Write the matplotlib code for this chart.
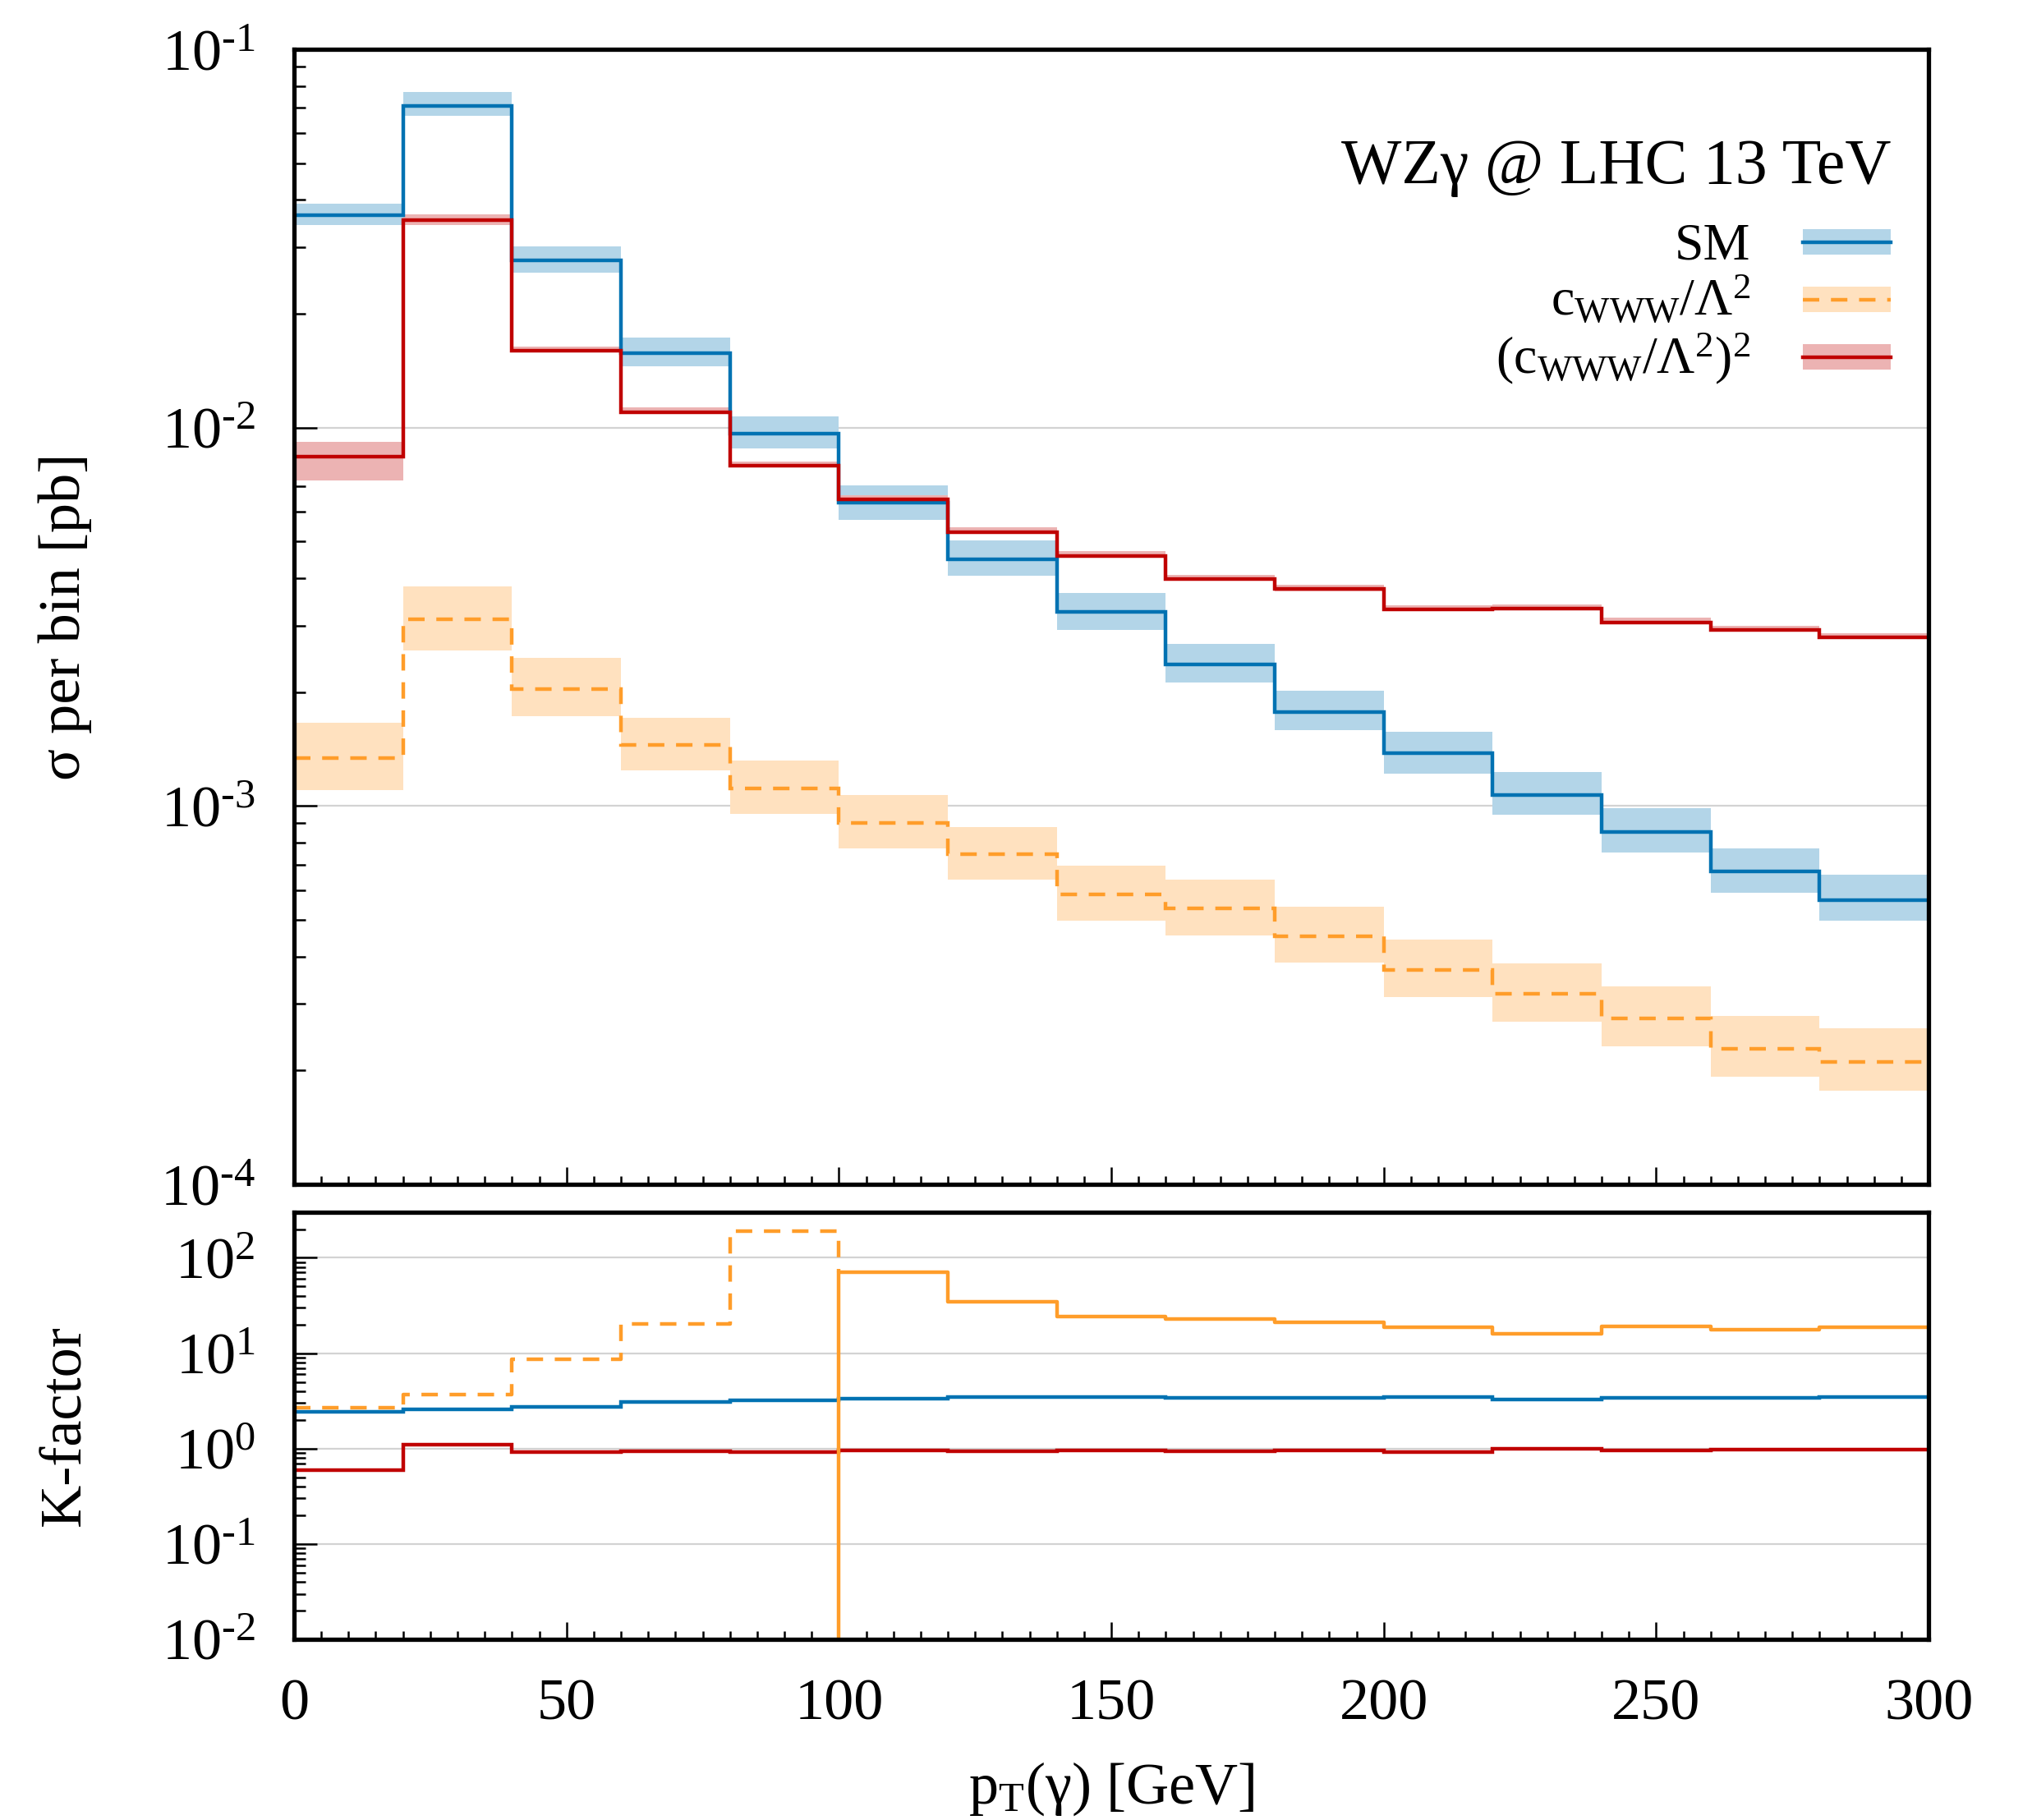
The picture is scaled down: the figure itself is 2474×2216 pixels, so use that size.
import numpy as np
import matplotlib
matplotlib.use("Agg")
import matplotlib.pyplot as plt
from matplotlib.ticker import LogLocator, MultipleLocator, NullFormatter, FuncFormatter
from matplotlib.patches import Rectangle
from matplotlib.lines import Line2D

plt.rcParams['font.family'] = 'Liberation Serif'
plt.rcParams['mathtext.fontset'] = 'custom'
plt.rcParams['mathtext.rm'] = 'Liberation Serif'
plt.rcParams['mathtext.it'] = 'Liberation Serif:italic'
plt.rcParams['mathtext.bf'] = 'Liberation Serif:bold'

# photon pT bins [GeV]
edges = np.arange(0, 301, 20)

# sigma per bin [pb], central value and scale band
sm = [0.0364, 0.0710, 0.0277, 0.0157, 0.00966, 0.00632, 0.00448, 0.00326,
      0.00237, 0.00177, 0.00138, 0.00107, 0.000852, 0.000673, 0.000565]
sm_hi = [0.0390, 0.0771, 0.0301, 0.0173, 0.0107, 0.00704, 0.00504, 0.00366,
         0.00268, 0.00202, 0.00157, 0.00123, 0.000985, 0.000774, 0.000657]
sm_lo = [0.0343, 0.0667, 0.0257, 0.0145, 0.00881, 0.00571, 0.00406, 0.00292,
         0.00212, 0.00159, 0.00122, 0.000946, 0.000752, 0.000591, 0.000497]

lin = [0.00134, 0.00312, 0.00204, 0.00145, 0.00111, 0.000901, 0.000745, 0.000583,
       0.000535, 0.000453, 0.000369, 0.000319, 0.000275, 0.000228, 0.000211]
lin_hi = [0.00166, 0.00381, 0.00246, 0.00171, 0.00132, 0.00107, 0.000881, 0.000694,
          0.000638, 0.000541, 0.000443, 0.000384, 0.000333, 0.000278, 0.000258]
lin_lo = [0.00110, 0.00257, 0.00173, 0.00124, 0.000953, 0.000772, 0.000639, 0.000498,
          0.000454, 0.000385, 0.000313, 0.000269, 0.000231, 0.000192, 0.000177]

quad = [0.00839, 0.0353, 0.0160, 0.0110, 0.00794, 0.00646, 0.00530, 0.00458,
        0.00398, 0.00374, 0.00330, 0.00332, 0.00306, 0.00292, 0.00279]
quad_hi = [0.00916, 0.0366, 0.0164, 0.0113, 0.00815, 0.00664, 0.00545, 0.00471,
           0.00409, 0.00384, 0.00339, 0.00341, 0.00314, 0.00300, 0.00286]
quad_lo = [0.00725, 0.0343, 0.0158, 0.0109, 0.00786, 0.00640, 0.00525, 0.00454,
           0.00394, 0.00370, 0.00327, 0.00329, 0.00303, 0.00289, 0.00276]

# K-factors (NLO/LO); negative values are drawn dashed as |K|
k_sm = [2.42, 2.59, 2.71, 3.10, 3.21, 3.35, 3.44, 3.49,
        3.42, 3.37, 3.47, 3.27, 3.37, 3.37, 3.47]
k_lin = np.array([-2.67, -3.69, -8.62, -20.1, -190.0, 70.3, 34.9, 24.4,
                  23.0, 21.0, 18.6, 15.9, 19.0, 17.6, 18.6])
k_quad = [0.593, 1.09, 0.918, 0.932, 0.925, 0.958, 0.945, 0.952,
          0.932, 0.965, 0.912, 0.986, 0.958, 0.972, 0.972]

blue, blue_b = '#0072b2', '#b3d5e8'
orange, orange_b = '#ff9d2a', '#ffe1bf'
red, red_b = '#c00000', '#ecb3b3'
grey = '#d3d3d3'
lw = 1.6
dash = (0, (4.5, 3.2))


def pow10(v, pos):
    # plain hyphen in the exponent, gnuplot style
    e = int(round(np.log10(v)))
    return r'$\mathdefault{10^{%s}}$' % str(e).replace('-', '\u2010')


fig = plt.figure(figsize=(12.37, 11.08), dpi=200)
ax = fig.add_axes([0.1447, 0.3493, 0.8044, 0.6236])
axk = fig.add_axes([0.1447, 0.0993, 0.8044, 0.2346])

# upper panel: cross sections with bands
for lo, hi, c in [(sm_lo, sm_hi, blue_b), (lin_lo, lin_hi, orange_b), (quad_lo, quad_hi, red_b)]:
    ax.stairs(hi, edges, baseline=lo, fill=True, color=c, lw=0)
ax.stairs(sm, edges, baseline=None, color=blue, lw=lw)
ax.stairs(lin, edges, baseline=None, color=orange, lw=lw, linestyle=dash)
ax.stairs(quad, edges, baseline=None, color=red, lw=lw)

# lower panel: K-factors
kmin, kmax = 1e-2, 300
axk.stairs(k_sm, edges, baseline=None, color=blue, lw=lw)
axk.stairs(k_quad, edges, baseline=None, color=red, lw=lw)
n = int((k_lin < 0).sum())
axk.step(edges[:n + 1], np.r_[-k_lin[:n], k_lin[n]], where='post',
         color=orange, lw=lw, linestyle=dash)
axk.step(np.r_[edges[n], edges[n:]], np.r_[kmin, k_lin[n:], k_lin[-1]], where='post',
         color=orange, lw=lw)

for a in (ax, axk):
    a.set_xlim(0, 300)
    a.set_yscale('log')
    a.xaxis.set_major_locator(MultipleLocator(50))
    a.xaxis.set_minor_locator(MultipleLocator(5))
    a.yaxis.set_major_locator(LogLocator(base=10, numticks=12))
    a.yaxis.set_major_formatter(FuncFormatter(pow10))
    a.yaxis.set_minor_locator(LogLocator(base=10, subs=np.arange(2, 10), numticks=12))
    a.yaxis.set_minor_formatter(NullFormatter())
    a.tick_params(which='both', direction='in', top=False, right=False,
                  labelsize=26, width=0.9, color='black')
    a.tick_params(axis='y', which='major', length=10, pad=17)
    a.tick_params(axis='y', which='minor', length=5)
    a.tick_params(axis='x', which='major', length=7.5, pad=17)
    a.tick_params(axis='x', which='minor', length=3.5)
    for s in a.spines.values():
        s.set_linewidth(1.9)
    a.grid(axis='y', which='major', color=grey, lw=0.8)
    a.set_axisbelow(True)

ax.set_ylim(1e-4, 1e-1)
ax.tick_params(axis='x', labelbottom=False)
axk.set_ylim(kmin, kmax)

# title and key
ax.text(0.977, 0.882, 'WZγ @ LHC 13 TeV', transform=ax.transAxes,
        ha='right', va='baseline', fontsize=28)
labels = ['SM', r'$\mathrm{c_{WWW}/\Lambda^{2}}$', r'$\mathrm{(c_{WWW}/\Lambda^{2})^{2}}$']
styles = [(blue, blue_b, '-'), (orange, orange_b, dash), (red, red_b, '-')]
for i, (lab, (c, cb, ls)) in enumerate(zip(labels, styles)):
    yk = 0.830 - 0.0505 * i
    ax.add_patch(Rectangle((0.923, yk - 0.0112), 0.054, 0.0224, transform=ax.transAxes,
                           color=cb, lw=0))
    ax.add_line(Line2D([0.923, 0.977], [yk, yk], transform=ax.transAxes,
                       color=c, lw=lw, linestyle=ls))
    ax.text(0.891, yk - 0.0145, lab, transform=ax.transAxes,
            ha='right', va='baseline', fontsize=23)

fig.text(0.0392, 0.661, 'σ per bin [pb]', rotation=90, rotation_mode='anchor',
         ha='center', va='baseline', fontsize=26)
fig.text(0.0392, 0.2166, 'K-factor', rotation=90, rotation_mode='anchor',
         ha='center', va='baseline', fontsize=26)
fig.text(0.547, 0.017, r'p$_{\mathrm{T}}$(γ) [GeV]', ha='center', va='center', fontsize=26)

fig.savefig('out.png', dpi=200)
